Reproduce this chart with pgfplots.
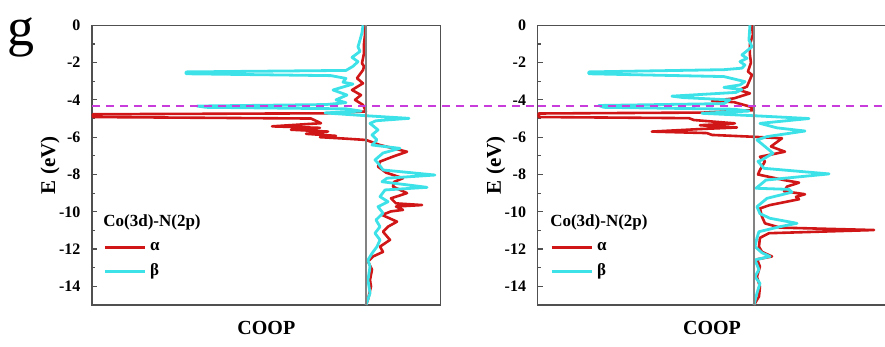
\documentclass[border=0pt]{standalone}
\usepackage{fontspec}
\setmainfont{Liberation Serif}
\usepackage{pgfplots}
\pgfplotsset{compat=1.18}
\definecolor{cred}{RGB}{208,22,22}
\definecolor{ccyan}{RGB}{60,226,232}
\definecolor{cmag}{RGB}{200,60,220}
\definecolor{cframe}{RGB}{80,80,80}
\definecolor{czero}{RGB}{130,130,130}
\pgfplotsset{coopstyle/.style={
  scale only axis, width=174.35pt, height=139.85pt, anchor=south west,
  ymin=-15, ymax=0, ytick={0,-2,...,-14}, minor ytick={-1,-3,...,-13},
  xtick=\empty, ytick pos=left, tick align=inside,
  major tick length=2.5pt, minor tick length=1.5pt,
  axis line style={cframe, line width=0.6pt},
  every tick/.style={cframe, line width=0.6pt},
  /pgf/number format/assume math mode=true,
  yticklabel style={font=\bfseries\fontsize{8}{9}\selectfont, xshift=-2.3pt},
  ylabel={E (eV)},
  ylabel style={at={(axis description cs:-0.12,0.5)}, anchor=center, font=\bfseries\fontsize{10.5}{12}\selectfont},
  xlabel={COOP},
  xlabel style={at={(axis description cs:0.5,-0.083)}, anchor=center, font=\bfseries\fontsize{10}{12}\selectfont},
  clip=false,
  legend style={draw=none, fill=none, at={(axis description cs:0.0315,0.24)}, anchor=north west,
    font=\bfseries\fontsize{8.5}{10}\selectfont, inner sep=0pt, row sep=1.2pt, legend cell align=left},
  legend image code/.code={\draw[#1, line width=1.4pt] (0pt,0pt) -- (20pt,0pt);},
  every axis plot/.append style={line join=round},
}}
\begin{document}
\begin{tikzpicture}
% ---------------- left panel ----------------
\begin{axis}[coopstyle, at={(46pt,21pt)}, xmin=-2.74, xmax=0.747]
\addplot[cred, line width=1.3pt] coordinates {
(-0.01,0) (-0.01,-0.5) (-0.02,-1.0) (-0.02,-1.5) (-0.04,-2.04) (-0.02,-2.2) (-0.03,-2.4)
(-0.09,-2.84) (-0.03,-3.11) (-0.14,-3.47) (-0.05,-3.74) (-0.11,-4.0) (-0.03,-4.27) (0.0,-4.62)
(-0.4,-4.72) (-2.73,-4.77) (-2.73,-4.92) (-0.55,-5.0) (-0.45,-5.25) (-0.94,-5.42) (-0.46,-5.5)
(-0.75,-5.6) (-0.38,-5.7) (-0.6,-5.82) (-0.3,-5.93) (-0.46,-6.0) (-0.2,-6.08) (0.0,-6.15)
(0.14,-6.42) (0.41,-6.78) (0.27,-7.04) (0.14,-7.31) (0.12,-7.58) (0.2,-7.9) (0.37,-8.2)
(0.28,-8.4) (0.27,-8.65) (0.41,-9.0) (0.25,-9.28) (0.3,-9.55) (0.56,-9.64) (0.3,-9.72)
(0.37,-9.9) (0.25,-9.98) (0.16,-10.17) (0.31,-10.53) (0.22,-10.8) (0.17,-11.07) (0.24,-11.51)
(0.14,-11.87) (0.17,-12.15) (0.07,-12.4) (0.02,-12.67) (0.06,-13.1) (0.04,-13.66) (0.05,-14.0)
(0.02,-14.7) (0.0,-15)};
\addlegendentry{α}
\addplot[ccyan, line width=1.4pt] coordinates {
(-0.03,0) (-0.04,-0.4) (-0.06,-0.79) (-0.08,-1.15) (-0.06,-1.4) (-0.14,-1.72) (-0.08,-1.95)
(-0.13,-2.2) (-0.2,-2.42) (-1.8,-2.5) (-1.8,-2.6) (-0.35,-2.7) (-0.2,-2.85) (-0.23,-3.05)
(-0.13,-3.15) (-0.33,-3.47) (-0.19,-3.74) (-0.3,-4.0) (-0.2,-4.15) (-0.4,-4.25) (-1.69,-4.33)
(-1.6,-4.4) (-0.2,-4.48) (-0.05,-4.6) (-0.41,-4.7) (0.0,-4.85) (0.43,-4.99) (0.1,-5.12)
(0.04,-5.26) (0.12,-5.61) (0.06,-5.88) (0.11,-6.15) (0.06,-6.42) (0.34,-6.6) (0.17,-6.85)
(0.09,-7.22) (0.12,-7.39) (0.17,-7.76) (0.69,-8.03) (0.21,-8.2) (0.16,-8.39) (0.61,-8.69)
(0.19,-8.83) (0.14,-9.19) (0.22,-9.46) (0.12,-9.73) (0.17,-10.07) (0.1,-10.44) (0.14,-10.8)
(0.09,-11.15) (0.14,-11.51) (0.11,-11.87) (0.06,-12.23) (0.02,-12.58) (0.04,-12.94)
(0.02,-13.66) (0.04,-14.37) (0.0,-15)};
\addlegendentry{β}
\addplot[czero, line width=0.7pt, forget plot] coordinates {(0,-15) (0,0)};
\addplot[cmag, line width=1pt, dash pattern=on 4pt off 3pt, forget plot] coordinates {(-2.74,-4.35) (1.717,-4.35)};
\node[anchor=west, font=\bfseries\fontsize{8.5}{10}\selectfont, inner sep=0pt] at (axis description cs:0.0315,0.294) {Co(3d)-N(2p)};
\end{axis}
% ---------------- right panel ----------------
\begin{axis}[coopstyle, at={(268.85pt,21pt)}, xmin=-2.16, xmax=1.323,
  legend style={at={(axis description cs:0.035,0.24)}}]
\addplot[cred, line width=1.3pt] coordinates {
(-0.02,0) (-0.01,-0.5) (-0.04,-1.0) (-0.04,-1.59) (-0.03,-2.0) (-0.06,-2.48) (-0.02,-2.66)
(-0.07,-3.29) (-0.15,-3.47) (-0.04,-3.65) (-0.2,-3.92) (-0.42,-4.06) (-0.2,-4.12) (-0.04,-4.36)
(0.0,-4.55) (-0.5,-4.68) (-2.15,-4.73) (-2.15,-4.92) (-0.65,-4.98) (-0.6,-5.08) (-0.19,-5.26)
(-0.54,-5.36) (-0.17,-5.48) (-0.52,-5.56) (-1.02,-5.7) (-0.47,-5.78) (-0.42,-5.88) (0.0,-5.98)
(0.28,-6.06) (0.17,-6.5) (0.31,-6.78) (0.06,-7.05) (0.11,-7.3) (0.06,-7.76) (0.04,-8.0)
(0.3,-8.3) (0.45,-8.44) (0.33,-8.65) (0.3,-8.9) (0.51,-9.06) (0.42,-9.2) (0.45,-9.33)
(0.16,-9.64) (0.06,-9.82) (0.08,-10.26) (0.11,-10.62) (0.26,-10.85) (1.2,-10.98) (0.15,-11.15)
(0.06,-11.4) (0.05,-11.87) (0.08,-12.15) (0.18,-12.4) (0.03,-12.55) (0.06,-12.94) (0.03,-13.48)
(0.06,-14.02) (0.05,-14.55) (0.0,-15)};
\addlegendentry{α}
\addplot[ccyan, line width=1.4pt] coordinates {
(-0.04,0) (-0.05,-0.79) (-0.02,-1.15) (-0.12,-1.59) (-0.07,-1.77) (-0.14,-1.95) (-0.09,-2.13)
(-0.12,-2.3) (-0.3,-2.38) (-1.65,-2.5) (-1.65,-2.6) (-0.3,-2.75) (-0.09,-3.02) (-0.14,-3.2)
(-0.3,-3.33) (-0.12,-3.45) (-0.18,-3.6) (-0.82,-3.8) (-0.7,-3.88) (-0.24,-4.0) (-0.3,-4.2)
(-1.55,-4.3) (-1.5,-4.4) (-0.2,-4.5) (-0.05,-4.6) (-0.52,-4.72) (0.0,-4.85) (0.55,-5.0)
(0.06,-5.26) (0.23,-5.5) (0.51,-5.67) (0.13,-5.97) (0.03,-6.15) (0.11,-6.5) (0.19,-6.86)
(0.08,-7.22) (0.04,-7.3) (0.1,-7.67) (0.75,-7.97) (0.12,-8.3) (0.02,-8.74) (0.35,-8.8)
(0.38,-8.95) (0.13,-9.28) (0.03,-9.73) (0.06,-10.1) (0.16,-10.35) (0.43,-10.62) (0.26,-10.8)
(0.05,-11.07) (0.03,-11.4) (0.01,-11.87) (0.08,-12.2) (0.16,-12.4) (0.01,-12.58) (0.05,-13.1)
(0.01,-13.48) (0.06,-13.84) (0.03,-14.37) (0.0,-15)};
\addlegendentry{β}
\addplot[czero, line width=0.7pt, forget plot] coordinates {(0,-15) (0,0)};
\addplot[cmag, line width=1pt, dash pattern=on 4pt off 3pt, forget plot] coordinates {(-2.16,-4.35) (1.323,-4.35)};
\node[anchor=west, font=\bfseries\fontsize{8.5}{10}\selectfont, inner sep=0pt] at (axis description cs:0.035,0.294) {Co(3d)-N(2p)};
\end{axis}
\node[font=\fontsize{27}{30}\selectfont, inner sep=0pt] at (10.5pt,155pt) {g};
\pgfresetboundingbox
\path[use as bounding box] (0,0) rectangle (442.5pt,173.5pt);
\end{tikzpicture}
\end{document}
